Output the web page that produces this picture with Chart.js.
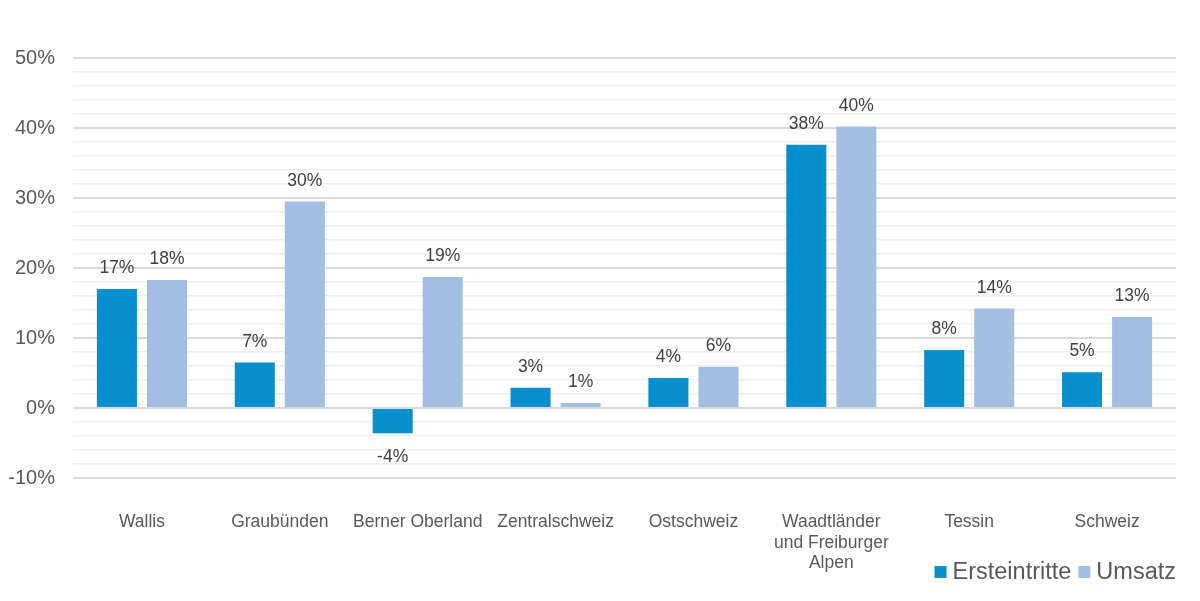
<!DOCTYPE html>
<html>
<head>
<meta charset="utf-8">
<script src="https://cdn.jsdelivr.net/npm/chart.js@4.4.1/dist/chart.umd.min.js"></script>
<style>
  html, body { margin: 0; padding: 0; background: #fff; }
  #wrap { width: 1200px; height: 601px; }
</style>
</head>
<body>
<div id="wrap"><canvas id="chart" width="1200" height="601"></canvas></div>
<script>
// Regions and values (percent change)
const regions = [
    'Wallis', 'Graubünden', 'Berner Oberland', 'Zentralschweiz',
    'Ostschweiz', ['Waadtländer', 'und Freiburger', 'Alpen'], 'Tessin', 'Schweiz'
];
const ersteintritte = [17.0, 6.5, -3.6, 2.9, 4.3, 37.6, 8.3, 5.1];
const umsatz = [18.3, 29.5, 18.7, 0.7, 5.9, 40.2, 14.2, 13.0];
const yTicks = [-10, 0, 10, 20, 30, 40, 50];

const FONT = '"Liberation Sans", Arial, sans-serif';

// Draw value labels above (or below) each bar
const valueLabels = {
    id: 'valueLabels',
    afterDatasetsDraw(chart) {
        const ctx = chart.ctx;
        ctx.save();
        ctx.font = '17.5px ' + FONT;
        ctx.fillStyle = '#404040';
        ctx.textAlign = 'center';
        ctx.textBaseline = 'alphabetic';
        chart.data.datasets.forEach((ds, i) => {
            chart.getDatasetMeta(i).data.forEach((bar, j) => {
                const v = ds.data[j];
                const txt = Math.round(v) + '%';
                if (v >= 0) {
                    ctx.fillText(txt, bar.x, bar.y - 16);
                } else {
                    ctx.fillText(txt, bar.x, bar.y + 29);
                }
            });
        });
        ctx.restore();
    }
};

// Legend in the bottom right corner, drawn by hand for tighter spacing
const cornerLegend = {
    id: 'cornerLegend',
    afterDraw(chart) {
        const ctx = chart.ctx;
        const box = 12;
        const right = chart.chartArea.right;
        const baseline = 579;
        ctx.save();
        ctx.font = '23.5px ' + FONT;
        ctx.textBaseline = 'alphabetic';
        ctx.textAlign = 'left';
        const items = chart.data.datasets.map(ds => ({
            text: ds.label,
            color: ds.backgroundColor,
            w: box + 6 + ctx.measureText(ds.label).width
        }));
        const total = items.reduce((s, it) => s + it.w, 0) + 7 * (items.length - 1);
        let x = right - total;
        items.forEach(it => {
            ctx.fillStyle = it.color;
            ctx.fillRect(x, baseline - 13, box, box);
            ctx.fillStyle = '#595959';
            ctx.fillText(it.text, x + box + 6, baseline);
            x += it.w + 7;
        });
        ctx.restore();
    }
};

const ctx = document.getElementById('chart').getContext('2d');
new Chart(ctx, {
    type: 'bar',
    data: {
        labels: regions,
        datasets: [
            {
                label: 'Ersteintritte',
                data: ersteintritte,
                backgroundColor: '#058fcf',
                categoryPercentage: 0.726,
                barPercentage: 0.8
            },
            {
                label: 'Umsatz',
                data: umsatz,
                backgroundColor: '#a2bee1',
                categoryPercentage: 0.726,
                barPercentage: 0.8
            }
        ]
    },
    options: {
        responsive: false,
        animation: false,
        layout: {
            padding: { top: 58, right: 24, left: 4, bottom: 0 }
        },
        plugins: {
            legend: { display: false },
            tooltip: { enabled: false }
        },
        scales: {
            x: {
                grid: { display: false },
                border: { display: false },
                ticks: {
                    color: '#595959',
                    padding: 26,
                    maxRotation: 0,
                    autoSkip: false,
                    font: { family: FONT, size: 17.5, lineHeight: 1.17 }
                },
                afterFit(scale) { scale.height = 123; }
            },
            y: {
                min: -10,
                max: 50,
                border: { display: false },
                grid: {
                    drawTicks: false,
                    color: c => (c.tick.value % 10 === 0 ? '#d9d9d9' : '#efefef'),
                    lineWidth: c => (c.tick.value % 10 === 0 ? 2 : 1.5)
                },
                ticks: {
                    stepSize: 2,
                    autoSkip: false,
                    padding: 18,
                    color: '#595959',
                    font: { family: FONT, size: 20 },
                    callback: v => (yTicks.includes(v) ? v + '%' : '')
                },
                afterFit(scale) { scale.width = 69; }
            }
        }
    },
    plugins: [valueLabels, cornerLegend]
});
</script>
</body>
</html>
